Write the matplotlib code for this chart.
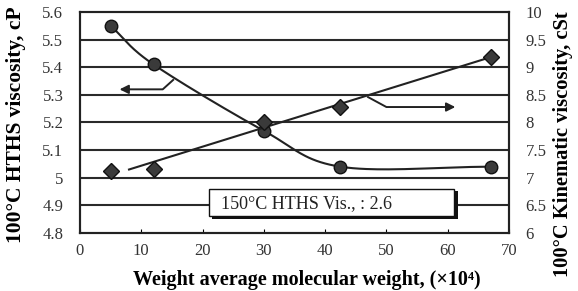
import numpy as np
import matplotlib.pyplot as plt

# data
mw = [5, 12, 30, 42.5, 67]
hths = [5.55, 5.41, 5.17, 5.04, 5.04]
mw_kv = [5, 12, 30, 42.5, 67]
kv = [7.12, 7.16, 8.01, 8.28, 9.19]
x_ticks = [0, 10, 20, 30, 40, 50, 60, 70]
left_ticks = [4.8, 4.9, 5.0, 5.1, 5.2, 5.3, 5.4, 5.5, 5.6]
left_labels = ['4.8', '4.9', '5', '5.1', '5.2', '5.3', '5.4', '5.5', '5.6']
right_ticks = [6, 6.5, 7, 7.5, 8, 8.5, 9, 9.5, 10]
right_labels = ['6', '6.5', '7', '7.5', '8', '8.5', '9', '9.5', '10']
note = '150\u00b0C HTHS Vis., : 2.6'

plt.rcParams['font.family'] = ['Liberation Serif', 'DejaVu Serif']

def smooth(xs, ys, sx, sy, n=40):
    # catmull-rom through the points, scaled roughly to pixel space
    p = np.column_stack([np.array(xs) * sx, np.array(ys) * sy])
    p = np.vstack([2 * p[0] - p[1], p, 2 * p[-1] - p[-2]])
    out = []
    for i in range(1, len(p) - 2):
        p0, p1, p2, p3 = p[i - 1], p[i], p[i + 1], p[i + 2]
        t = np.linspace(0, 1, n)[:, None]
        seg = 0.5 * ((2 * p1) + (-p0 + p2) * t + (2 * p0 - 5 * p1 + 4 * p2 - p3) * t ** 2
                     + (-p0 + 3 * p1 - 3 * p2 + p3) * t ** 3)
        out.append(seg)
    out = np.vstack(out)
    return out[:, 0] / sx, out[:, 1] / sy

fig = plt.figure(figsize=(5.78, 2.91), dpi=100)
ax = fig.add_axes([0.1384, 0.1993, 0.7422, 0.7595])
ax2 = ax.twinx()

ax.set_xlim(0, 70)
ax.set_ylim(4.8, 5.6)
ax2.set_ylim(6, 10)

for y in left_ticks[1:-1]:
    ax.axhline(y, color='#2a2a2a', lw=1.5, zorder=1)

# HTHS smooth curve
cx, cy = smooth(mw, hths, 6.13, 276)
ax.plot(cx, cy, color='#222222', lw=1.5, zorder=3)
ax.plot(mw, hths, 'o', ms=9, mfc='#3a3a3a', mec='#111111', mew=1, zorder=4)

# kinematic viscosity with linear trend
k, b = np.polyfit(mw_kv, kv, 1)
tx = np.array([8, 67])
ax2.plot(tx, k * tx + b, color='#222222', lw=1.5, zorder=3)
ax2.plot(mw_kv, kv, 'D', ms=8, mfc='#3a3a3a', mec='#111111', mew=1, zorder=4)

# arrows pointing to the axis each curve belongs to
ax.plot([15.2, 13.5, 8], [5.354, 5.32, 5.32], color='#222222', lw=1.4)
ax.annotate('', xy=(6, 5.32), xytext=(8.5, 5.32),
            arrowprops=dict(arrowstyle='-|>', color='#222222', lw=1.4, mutation_scale=13))
ax2.plot([47, 50, 59], [8.46, 8.28, 8.28], color='#222222', lw=1.4)
ax2.annotate('', xy=(61.7, 8.28), xytext=(58.5, 8.28),
             arrowprops=dict(arrowstyle='-|>', color='#222222', lw=1.4, mutation_scale=13))

# note box with shadow
ax.add_patch(plt.Rectangle((21.6, 4.852), 40, 0.1, facecolor='#111111', edgecolor='none', zorder=5))
ax.add_patch(plt.Rectangle((21.1, 4.86), 40, 0.098, facecolor='white', edgecolor='#111111', lw=1, zorder=6))
ax.text(23, 4.907, note, fontsize=13, va='center', ha='left', color='#222222', zorder=7)

ax.set_xticks(x_ticks)
ax.set_yticks(left_ticks)
ax.set_yticklabels(left_labels)
ax2.set_yticks(right_ticks)
ax2.set_yticklabels(right_labels)
ax.tick_params(axis='x', direction='in', length=3, labelsize=12, pad=7, labelcolor='#333333')
ax.tick_params(axis='y', direction='in', length=0, labelsize=12, pad=12, labelcolor='#333333')
ax2.tick_params(axis='y', direction='in', length=0, labelsize=12, pad=12, labelcolor='#333333')

for a in (ax, ax2):
    for s in a.spines.values():
        s.set_linewidth(1.5)
        s.set_color('#222222')

ax.set_ylabel('100\u00b0C HTHS viscosity, cP', fontsize=15.5, fontweight='bold', va='center')
ax.yaxis.set_label_coords(-0.149, 0.49)
ax2.set_ylabel('100\u00b0C Kinematic viscosity, cSt', fontsize=14.8, fontweight='bold', va='center')
ax2.yaxis.set_label_coords(1.126, 0.40)
ax.set_xlabel('Weight average molecular weight, (\u00d710\u2074)', fontsize=14.5, fontweight='bold', va='center')
ax.xaxis.set_label_coords(0.529, -0.212)

fig.savefig('out.png', dpi=100)
